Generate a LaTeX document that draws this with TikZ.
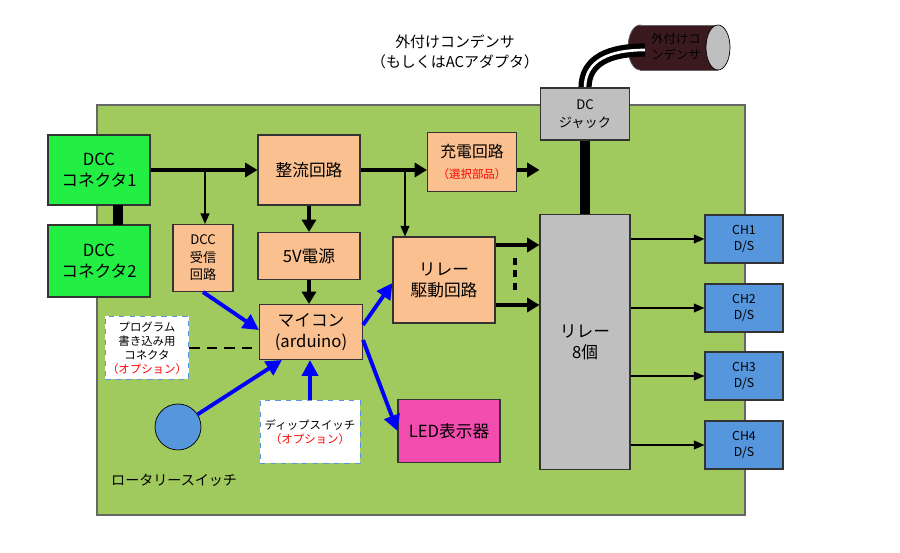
\documentclass[tikz,border=0pt]{standalone}
\usepackage{fontspec}
\setmainfont{Noto Sans CJK JP}
\usetikzlibrary{arrows.meta}
\definecolor{board}{HTML}{A0CA5E}
\definecolor{orng}{HTML}{FAC090}
\definecolor{dccg}{HTML}{22EE44}
\definecolor{chb}{HTML}{5596DC}
\definecolor{relg}{HTML}{BFBFBF}
\definecolor{cap}{HTML}{3A1A1E}
\begin{document}
\begin{tikzpicture}[x=0.02cm,y=-0.02cm,
 box/.style 2 args={draw=black!80,line width=0.6pt,minimum width=#1*0.02cm,minimum height=#2*0.02cm,inner sep=1pt,align=center},
 thk/.style={line width=2.4pt,-{Triangle[length=7pt,width=8pt]}},
 thn/.style={line width=0.8pt,-{Triangle[length=6pt,width=5pt]}},
 blu/.style={draw=blue,line width=2.2pt,-{Stealth[length=9pt,width=9pt,inset=0pt]}},
 big/.style={font=\fontsize{9.5}{12}\selectfont},
 sm/.style={font=\fontsize{6.5}{8}\selectfont},
 opt/.style 2 args={dashed,draw=chb,fill=white,line width=0.5pt,align=center,minimum width=#1*0.02cm,minimum height=#2*0.02cm,inner sep=1pt}]
\useasboundingbox (0,0) rectangle (900,553);
% top text
\node[font=\fontsize{8.5}{11}\selectfont,align=center] (toptxt) at (455,52) {外付けコンデンサ\\（もしくはACアダプタ）};
% board
\path[draw=black!60,fill=board,line width=0.6pt] (97,105) rectangle (745,515);
% capacitor
\path[fill=cap,draw=black!60] (640,47.5) ellipse[x radius=12,y radius=22.5];
\path[fill=cap] (640,25) rectangle (718,70);
\draw[black!60] (640,25) -- (718,25) (640,70) -- (718,70);
\path[fill=relg,draw=black] (718,47.5) ellipse[x radius=12,y radius=22.5];
\node[font=\fontsize{7}{9}\selectfont,text=black,align=center] (capt) at (676,47) {外付けコ\\ンデンサ};
\coordinate (cabA) at (585,88);
\coordinate (cabB) at (645,50);
\draw[line width=3pt,double=white,double distance=1.5pt] (cabA) .. controls (585,60) and (610,50) .. (cabB);
% boxes
\node[box={102}{70},fill=dccg,big] (dcc1) at (99,170) {DCC\\コネクタ1};
\node[box={102}{72},fill=dccg,big] (dcc2) at (99,261) {DCC\\コネクタ2};
\node[box={60}{67},fill=orng,font=\fontsize{7.5}{10}\selectfont] (rx) at (203,258) {DCC\\受信\\回路};
\node[box={102}{70},fill=orng,big] (rect) at (309,170) {整流回路};
\node[box={102}{47},fill=orng,big] (v5) at (309,256) {5V電源};
\node[box={103}{55},fill=orng,big] (mcu) at (311,332) {マイコン\\(arduino)};
\node[box={89}{59},fill=orng,font=\fontsize{9}{12}\selectfont] (chg) at (472,162) {充電回路\\{\color{red}\fontsize{6.5}{8}\selectfont（選択部品）}};
\node[box={102}{86},fill=orng,big] (drv) at (444,280) {リレー\\駆動回路};
\node[box={102}{63},fill=magenta!70,big] (led) at (449,431) {LED表示器};
\node[box={90}{255},fill=relg,big] (rel) at (585,342) {リレー\\8個};
\node[box={89}{52},fill=relg,font=\fontsize{7.5}{10}\selectfont] (dcj) at (585,114) {DC\\ジャック};
\foreach \i/\y in {1/239,2/308,3/376,4/445}
  \node[box={78}{48},fill=chb,font=\fontsize{7}{9}\selectfont] (ch\i) at (744,\y) {CH\i\\D/S};
\node[opt={81}{63},sm] (prog) at (147,348) {プログラム\\書き込み用\\コネクタ\\{\color{red}（オプション）}};
\node[opt={100}{63},sm] (dip) at (310,432) {ディップスイッチ\\{\color{red}（オプション）}};
\node[circle,draw=black,fill=chb,minimum size=46*0.02cm,inner sep=0] (rot) at (178,427) {};
\node[font=\fontsize{8}{10}\selectfont,anchor=west] (rotl) at (105,480) {ロータリースイッチ};
% connectors
\coordinate (j1) at (205,170);
\coordinate (j2) at (405,170);
\draw[line width=6pt] (118,205) -- (118,225);
\draw[thk] (dcc1.east) -- (rect.west);
\draw[thn] (j1) -- (j1 |- rx.north);
\draw[thk] (rect.east) -- (rect.east -| chg.west);
\draw[thn] (j2) -- (j2 |- drv.north);
\draw[thk] (chg.east |- 0,170) -- (rel.west |- 0,170);
\draw[line width=6pt] (dcj.south) -- (dcj.south |- rel.north);
\draw[thk] (rect.south) -- (v5.north);
\draw[thk] (v5.south) -- (v5.south |- mcu.north);
\draw[blu] (rx.south) -- (mcu.west |- 0,330);
\draw[blu] (mcu.east |- 0,325) -- (drv.west |- 0,283);
\draw[blu] (mcu.east |- 0,340) -- (led.west);
\draw[blu] (rot) -- (282,360);
\draw[blu] (dip.north) -- (dip.north |- mcu.south);
\draw[line width=1.6pt,dash pattern=on 6pt off 4pt] (prog.east |- 0,348) -- (mcu.west |- 0,348);
\draw[thk] (drv.east |- 0,245) -- (rel.west |- 0,245);
\draw[thk] (drv.east |- 0,305) -- (rel.west |- 0,305);
\draw[line width=2.4pt,dash pattern=on 4pt off 3pt] (515,258) -- (515,290);
\foreach \i in {1,2,3,4} \draw[thn] (rel.east |- ch\i) -- (ch\i.west);
\end{tikzpicture}
\end{document}
